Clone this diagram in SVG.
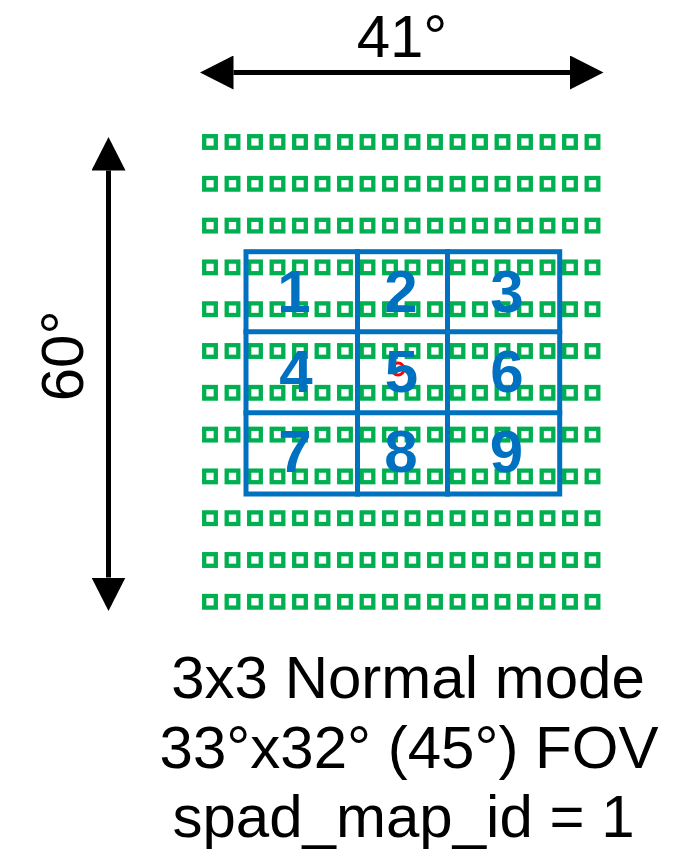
<svg xmlns="http://www.w3.org/2000/svg" xmlns:xlink="http://www.w3.org/1999/xlink" width="695" height="863" viewBox="0 0 695 863">
<style>
.sq{fill:none;stroke:#00B050;stroke-width:4.3}
.grid{fill:none;stroke:#0070C0;stroke-width:5;stroke-linecap:square}
.num{font-family:"Liberation Sans",Arial,sans-serif;font-weight:bold;font-size:60px;fill:#0070C0;text-anchor:middle}
.lbl{font-family:"Liberation Sans",Arial,sans-serif;font-size:60px;fill:#000;text-anchor:middle}
.arr{stroke:#000;stroke-width:5;fill:none}
</style>
<defs>
<marker id="ah" viewBox="0 0 34 34" markerWidth="34" markerHeight="34" refX="0" refY="17" orient="auto-start-reverse" markerUnits="userSpaceOnUse">
<path d="M0,0 L33.5,17 L0,34 Z" fill="#000"/>
</marker>
<rect id="sq" class="sq" x="-5.8" y="-5.8" width="11.6" height="11.6"/>
<g id="row">
<use xlink:href="#sq" x="210" y="0"/><use xlink:href="#sq" x="232.5" y="0"/><use xlink:href="#sq" x="255" y="0"/><use xlink:href="#sq" x="277.5" y="0"/><use xlink:href="#sq" x="300" y="0"/><use xlink:href="#sq" x="322.5" y="0"/><use xlink:href="#sq" x="345" y="0"/><use xlink:href="#sq" x="367.5" y="0"/><use xlink:href="#sq" x="390" y="0"/><use xlink:href="#sq" x="412.5" y="0"/><use xlink:href="#sq" x="435" y="0"/><use xlink:href="#sq" x="457.5" y="0"/><use xlink:href="#sq" x="480" y="0"/><use xlink:href="#sq" x="502.5" y="0"/><use xlink:href="#sq" x="525" y="0"/><use xlink:href="#sq" x="547.5" y="0"/><use xlink:href="#sq" x="570" y="0"/><use xlink:href="#sq" x="592.5" y="0"/>
</g>
</defs>
<rect width="695" height="863" fill="#fff"/>
<g id="spad-array">
<use xlink:href="#row" y="142"/><use xlink:href="#row" y="183.8"/><use xlink:href="#row" y="225.6"/><use xlink:href="#row" y="267.4"/><use xlink:href="#row" y="309.2"/><use xlink:href="#row" y="351"/><use xlink:href="#row" y="392.8"/><use xlink:href="#row" y="434.6"/><use xlink:href="#row" y="476.4"/><use xlink:href="#row" y="518.2"/><use xlink:href="#row" y="560"/><use xlink:href="#row" y="601.8"/>
</g>
<g id="zone-grid">
<rect class="grid" x="246" y="251.7" width="313.7" height="242.3"/>
<line class="grid" x1="357.5" y1="251.7" x2="357.5" y2="494"/>
<line class="grid" x1="447.5" y1="251.7" x2="447.5" y2="494"/>
<line class="grid" x1="246" y1="331.7" x2="559.7" y2="331.7"/>
<line class="grid" x1="246" y1="412.7" x2="559.7" y2="412.7"/>
</g>
<g id="center-mark">
<circle cx="398" cy="369" r="6" fill="none" stroke="#FF0000" stroke-width="3"/>
</g>
<g id="zones">
<text class="num" x="294" y="311.5">1</text>
<text class="num" x="401" y="311.5">2</text>
<text class="num" x="507" y="311.5">3</text>
<text class="num" x="296" y="391.5">4</text>
<text class="num" x="401.5" y="391.5">5</text>
<text class="num" x="507" y="391.5">6</text>
<text class="num" x="295" y="471.5">7</text>
<text class="num" x="401" y="471.5">8</text>
<text class="num" x="506.5" y="471.5">9</text>
</g>
<g id="connectors">
<line class="arr" x1="233.5" y1="72.5" x2="570" y2="72.5" marker-start="url(#ah)" marker-end="url(#ah)"/>
<line class="arr" x1="108.5" y1="170.5" x2="108.5" y2="577.5" marker-start="url(#ah)" marker-end="url(#ah)"/>
</g>
<g id="labels">
<text class="lbl" x="402" y="56.7">41°</text>
<text class="lbl" transform="translate(83,356) rotate(-90)">60°</text>
<text class="lbl" x="408" y="698.3">3x3 Normal mode</text>
<text class="lbl" x="409" y="768.3">33°x32° (45°) FOV</text>
<text class="lbl" x="403.5" y="836.7">spad_map_id = 1</text>
</g>
</svg>
